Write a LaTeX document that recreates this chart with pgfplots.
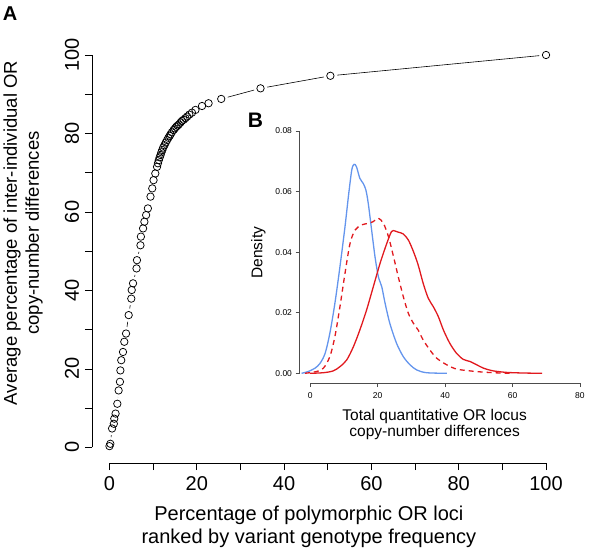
\documentclass[border=0pt]{standalone}
\usepackage{fontspec}
\setmainfont{Liberation Sans}
\usepackage{pgfplots}
\usepackage{pgfplotstable}
\pgfplotsset{compat=1.18}
\definecolor{cblue}{RGB}{100,149,237}
\definecolor{cred}{RGB}{225,25,30}
\pgfplotstableread{
x y
0.0 0.3
0.2 0.9
0.6 4.8
1.0 6.0
1.1 7.3
1.4 8.6
1.8 11.1
2.1 14.5
2.4 16.7
2.5 19.6
2.7 22.2
3.1 24.3
3.4 26.9
3.8 29.0
4.4 33.7
5.0 37.9
5.1 40.1
5.4 41.8
6.2 45.6
6.3 47.7
7.1 51.5
7.2 53.7
7.7 55.8
8.0 57.5
8.4 59.2
8.8 60.9
9.4 63.9
9.8 66.0
10.1 68.1
10.5 69.8
10.9 71.5
11.1 72.4
11.3 73.2
11.5 73.9
11.7 74.5
11.9 75.2
12.1 75.8
12.3 76.4
12.6 77.0
12.9 77.7
13.2 78.3
13.5 78.9
13.8 79.4
14.0 79.8
14.3 80.3
14.7 80.9
15.0 81.3
15.3 81.7
15.6 82.0
15.9 82.3
16.3 82.8
16.6 83.2
17.0 83.5
17.4 83.9
17.8 84.3
18.3 84.8
18.9 85.3
19.7 86.0
21.2 87.0
22.7 87.7
25.6 88.8
34.6 91.5
50.6 94.7
100 100
}\cumdata
\begin{document}
\begin{tikzpicture}[x=1pt,y=1pt]
\useasboundingbox (0,0) rectangle (594,-549);
% Main panel A
\begin{axis}[
  at={(92pt,-463pt)}, anchor=south west,
  width=471.5pt, height=423.7pt, scale only axis,
  xmin=-4, xmax=104, ymin=-4, ymax=104,
  axis line style={draw=none},
  tick pos=left, tick align=outside,
  major tick length=7pt,
  every tick/.style={black, line width=0.6pt},
  xtick={0,10,...,100}, xticklabels={0,,20,,40,,60,,80,,100},
  ytick={0,10,...,100}, yticklabels={0,,20,,40,,60,,80,,100},
  /pgf/number format/assume math mode=true,
  tick label style={font=\fontsize{20}{22}\selectfont},
  xticklabel style={yshift=-2.5pt},
  yticklabel style={rotate=90, anchor=center, yshift=13pt},
  xlabel={Percentage of polymorphic OR loci\\ranked by variant genotype frequency},
  xlabel style={align=center, font=\fontsize{20}{23.3}\selectfont, at={(axis description cs:0.46,-0.151)}, anchor=center},
  ylabel={Average percentage of inter-individual OR\\copy-number differences},
  ylabel style={align=center, font=\fontsize{18.5}{22}\selectfont, at={(axis description cs:-0.146,0.543)}, anchor=center, rotate=0},
  clip=false,
]
\addplot[black, line width=0.6pt, no marks, forget plot] table {\cumdata};
\addplot[only marks, mark=*, mark size=6.5pt, mark options={fill=white, draw=white}] table {\cumdata};
\addplot[only marks, mark=o, mark size=3.7pt, mark options={black, line width=0.75pt}] table {\cumdata};
\end{axis}
% Inset panel B
\begin{axis}[
  at={(299.5pt,-383pt)}, anchor=south west,
  width=291.2pt, height=261.7pt, scale only axis,
  xmin=-3.2, xmax=83.2, ymin=-0.0032, ymax=0.0832,
  axis line style={draw=none},
  tick pos=left, tick align=outside,
  major tick length=4pt,
  every tick/.style={black!70, line width=0.5pt},
  xtick={0,20,40,60,80},
  ytick={0,0.02,0.04,0.06,0.08},
  scaled y ticks=false,
  yticklabel style={/pgf/number format/fixed, /pgf/number format/fixed zerofill, /pgf/number format/precision=2},
  /pgf/number format/assume math mode=true,
  tick label style={font=\fontsize{8.5}{10}\selectfont},
  xticklabel style={yshift=-2pt},
  xlabel={Total quantitative OR locus\\copy-number differences},
  xlabel style={align=center, font=\fontsize{15.5}{16.7}\selectfont, at={(axis description cs:0.464,-0.158)}, anchor=center},
  ylabel={Density},
  ylabel style={font=\fontsize{15.5}{17}\selectfont, at={(axis description cs:-0.1415,0.498)}, anchor=center},
  clip=true,
]
\addplot[cblue, line width=1.3pt, smooth] table {
x y
-2.6 0
-0.6 0.0006
1.4 0.0017
2.9 0.0033
4.4 0.0066
5.8 0.0132
7.3 0.0231
8.8 0.0352
10.3 0.0484
11.3 0.0583
12.3 0.0671
13.0 0.0690
13.7 0.0682
14.7 0.0644
15.7 0.0627
16.5 0.0605
17.2 0.0561
18.2 0.0473
19.2 0.0385
20.2 0.0319
21.2 0.0286
22.2 0.0231
23.6 0.0165
25.6 0.0099
27.6 0.0055
29.6 0.0028
31.6 0.0011
34.5 0.0002
40.5 0
};
\addplot[cred, line width=1.3pt, dash pattern=on 5pt off 4pt, smooth] table {
x y
-1.6 0
1.9 0.0006
3.9 0.0017
5.8 0.0055
7.3 0.0121
8.8 0.0220
10.3 0.0330
11.8 0.0429
13.3 0.0473
15.2 0.0490
17.2 0.0495
18.7 0.0501
20.2 0.0512
21.7 0.0495
23.2 0.0451
24.7 0.0385
26.1 0.0319
27.6 0.0253
29.1 0.0198
30.6 0.0165
32.0 0.0143
33.5 0.0110
35.5 0.0077
37.5 0.0050
40.5 0.0028
43.4 0.0014
47.4 0.0008
51.3 0.0004
56.3 0.0001
60.2 0
};
\addplot[cred, line width=1.3pt, smooth] table {
x y
-0.1 0
3.9 0.0002
6.8 0.0008
8.8 0.0022
10.8 0.0044
12.8 0.0088
14.7 0.0143
16.7 0.0209
18.7 0.0286
20.7 0.0363
22.7 0.0429
24.1 0.0468
25.1 0.0470
26.1 0.0466
27.6 0.0460
29.1 0.0440
30.6 0.0402
32.0 0.0358
33.5 0.0297
35.0 0.0248
36.5 0.0220
38.0 0.0187
39.5 0.0143
41.4 0.0099
43.4 0.0066
45.4 0.0046
47.4 0.0039
49.4 0.0028
51.4 0.0017
54.3 0.0008
58.3 0.0003
63.2 0.0001
68.8 0
};
\end{axis}
% axis lines (R style, spanning only the tick range)
\draw[black, line width=0.7pt] (109.5,-463) -- (546.1,-463);
\draw[black, line width=0.7pt] (92,-447.3) -- (92,-54.9);
\draw[black!70, line width=0.5pt] (310.3,-383) -- (580,-383);
\draw[black!70, line width=0.5pt] (299.5,-373.3) -- (299.5,-131);
\node[font=\bfseries\fontsize{20}{20}\selectfont] at (10,-13.7) {A};
\node[font=\bfseries\fontsize{21}{21}\selectfont] at (255.5,-120) {B};
\end{tikzpicture}
\end{document}
